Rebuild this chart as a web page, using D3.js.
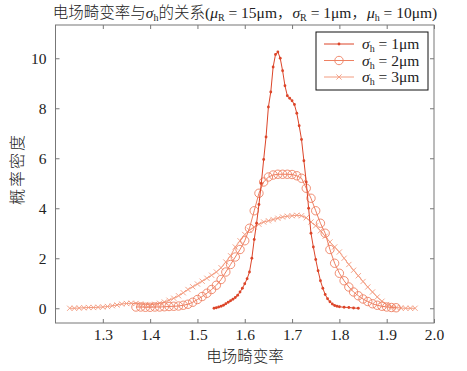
<!DOCTYPE html>
<html lang="zh">
<head>
<meta charset="UTF-8">
<title>电场畸变率与σh的关系</title>
<script src="https://cdn.jsdelivr.net/npm/d3@7/dist/d3.min.js"></script>
<style>
  body { margin: 0; background: #fff; }
  svg { display: block; }
  text { font-family: "Times New Roman", "Liberation Serif", "DejaVu Serif", serif; fill: #222; }
  .cjk { font-family: "Noto Sans CJK SC", sans-serif; font-weight: 300; }
</style>
</head>
<body>
<div id="chart"></div>
<script>
// data
const xTicks = [1.3, 1.4, 1.5, 1.6, 1.7, 1.8, 1.9, 2.0];
const yTicks = [0, 2, 4, 6, 8, 10];

const s1x = [1.535,1.540,1.545,1.550,1.555,1.560,1.565,1.570,1.575,1.580,1.585,1.590,1.595,1.600,1.605,1.610,1.615,1.620,1.625,1.630,1.635,1.640,1.645,1.650,1.655,1.660,1.665,1.670,1.675,1.680,1.685,1.690,1.695,1.700,1.705,1.710,1.715,1.720,1.725,1.730,1.735,1.740,1.745,1.750,1.755,1.760,1.765,1.770,1.775,1.780,1.785,1.790,1.795,1.800,1.810,1.820,1.830,1.840];
const s1y = [0.00,0.02,0.05,0.08,0.12,0.18,0.24,0.30,0.36,0.43,0.52,0.65,0.80,0.98,1.18,1.45,2.00,2.75,3.40,4.15,5.00,5.95,6.85,8.05,8.65,9.65,10.15,10.25,10.0,9.5,8.9,8.5,8.4,8.3,8.15,7.8,7.3,6.75,5.9,5.05,4.0,3.0,2.45,1.95,1.5,1.1,0.8,0.55,0.38,0.26,0.17,0.11,0.08,0.06,0.04,0.03,0.01,0.0];

const s2x = [1.37,1.38,1.39,1.40,1.41,1.42,1.43,1.44,1.45,1.46,1.47,1.48,1.49,1.50,1.51,1.52,1.53,1.54,1.55,1.56,1.57,1.58,1.59,1.60,1.61,1.62,1.63,1.64,1.65,1.66,1.67,1.68,1.69,1.70,1.71,1.72,1.73,1.74,1.75,1.76,1.77,1.78,1.79,1.80,1.81,1.82,1.83,1.84,1.85,1.86,1.87,1.88,1.89,1.90,1.91,1.92];
const s2y = [0.05,0.05,0.04,0.04,0.05,0.05,0.06,0.07,0.08,0.09,0.12,0.16,0.24,0.35,0.47,0.6,0.75,0.92,1.15,1.45,1.75,2.05,2.35,2.7,3.2,3.9,4.6,5.05,5.25,5.33,5.36,5.36,5.36,5.35,5.3,5.2,4.8,4.4,3.9,3.4,3.0,2.35,1.8,1.4,1.1,0.85,0.65,0.5,0.37,0.27,0.18,0.12,0.08,0.05,0.03,0.02];

const s3x = [1.23,1.24,1.25,1.26,1.27,1.28,1.29,1.30,1.31,1.32,1.33,1.34,1.35,1.36,1.37,1.38,1.39,1.40,1.41,1.42,1.43,1.44,1.45,1.46,1.47,1.48,1.49,1.50,1.51,1.52,1.53,1.54,1.55,1.56,1.57,1.58,1.59,1.60,1.61,1.62,1.63,1.64,1.65,1.66,1.67,1.68,1.69,1.70,1.71,1.72,1.73,1.74,1.75,1.76,1.77,1.78,1.79,1.80,1.81,1.82,1.83,1.84,1.85,1.86,1.87,1.88,1.89,1.90,1.91,1.92,1.93,1.94,1.95,1.96];
const s3y = [0.0,0.0,0.01,0.02,0.03,0.03,0.04,0.05,0.07,0.1,0.13,0.17,0.19,0.2,0.19,0.17,0.15,0.14,0.16,0.2,0.25,0.32,0.4,0.5,0.62,0.75,0.86,0.97,1.08,1.2,1.32,1.45,1.62,1.85,2.1,2.45,2.7,2.95,3.12,3.25,3.36,3.45,3.5,3.55,3.6,3.65,3.68,3.7,3.72,3.7,3.62,3.45,3.3,3.1,2.88,2.65,2.45,2.25,2.0,1.75,1.52,1.3,1.07,0.85,0.65,0.45,0.28,0.15,0.07,0.03,0.01,0.0,0.0,0.0];

const series = [
  {name: "1", x: s1x, y: s1y, color: "#dc4529", marker: "dot"},
  {name: "2", x: s2x, y: s2y, color: "#ee8062", marker: "circle"},
  {name: "3", x: s3x, y: s3y, color: "#f39c80", marker: "cross"}
];

const W = 467, H = 371;
const mL = 55.5, mR = 434, mT = 25, mB = 323;
const serif = "'Times New Roman', 'Liberation Serif', 'DejaVu Serif', serif";

const svg = d3.select("#chart").append("svg").attr("width", W).attr("height", H);

const x = d3.scaleLinear().domain([1.2, 2.0]).range([mL, mR]);
const y = d3.scaleLinear().domain([-0.59, 11.33]).range([mB, mT]);

// frame
svg.append("rect")
  .attr("x", mL).attr("y", mT)
  .attr("width", mR - mL).attr("height", mB - mT)
  .attr("fill", "none").attr("stroke", "#777").attr("stroke-width", 1);

// axes, ticks inward
const axisStyle = g => {
  g.attr("font-family", serif);
  g.select(".domain").remove();
  g.selectAll(".tick line").attr("stroke", "#777");
  g.selectAll(".tick text").attr("fill", "#222").style("font-size", "15.5px")
    .style("font-family", serif);
};
svg.append("g").attr("transform", `translate(0,${mB})`)
  .call(d3.axisBottom(x).tickValues(xTicks).tickFormat(d3.format(".1f")).tickSizeInner(-4).tickPadding(6))
  .call(axisStyle);
svg.append("g").attr("transform", `translate(0,${mT})`)
  .call(d3.axisTop(x).tickValues(xTicks).tickSizeInner(-4).tickFormat(""))
  .call(axisStyle);
svg.append("g").attr("transform", `translate(${mL},0)`)
  .call(d3.axisLeft(y).tickValues(yTicks).tickSizeInner(-4).tickPadding(9))
  .call(axisStyle);
svg.append("g").attr("transform", `translate(${mR},0)`)
  .call(d3.axisRight(y).tickValues(yTicks).tickSizeInner(-4).tickFormat(""))
  .call(axisStyle);

const line = d3.line().x(d => x(d[0])).y(d => y(d[1]));

function drawMarker(g, kind, cx, cy, color) {
  if (kind === "dot") {
    g.append("circle").attr("cx", cx).attr("cy", cy).attr("r", 1.4).attr("fill", color);
  } else if (kind === "circle") {
    g.append("circle").attr("cx", cx).attr("cy", cy).attr("r", 4.2)
      .attr("fill", "none").attr("stroke", color).attr("stroke-width", 0.9);
  } else {
    const s = 2.6;
    g.append("path").attr("d", `M${cx-s},${cy-s}L${cx+s},${cy+s}M${cx-s},${cy+s}L${cx+s},${cy-s}`)
      .attr("stroke", color).attr("stroke-width", 0.9);
  }
}

const plot = svg.append("g");
series.slice().reverse().forEach(s => {
  const pts = s.x.map((v, i) => [v, s.y[i]]);
  const g = plot.append("g");
  g.append("path").datum(pts).attr("d", line)
    .attr("fill", "none").attr("stroke", s.color).attr("stroke-width", 1);
  pts.forEach(p => drawMarker(g, s.marker, x(p[0]), y(p[1]), s.color));
});

// title
const title = svg.append("text").attr("x", 245).attr("y", 18)
  .attr("text-anchor", "middle").style("font-size", "15.5px");
title.append("tspan").attr("class", "cjk").text("电场畸变率与");
title.append("tspan").attr("font-style", "italic").text("σ");
title.append("tspan").attr("dy", 3).style("font-size", "10px").text("h");
title.append("tspan").attr("dy", -3).attr("class", "cjk").text("的关系");
title.append("tspan").text("(");
title.append("tspan").attr("font-style", "italic").text("μ");
title.append("tspan").attr("dy", 3).style("font-size", "10px").text("R");
title.append("tspan").attr("dy", -3).text(" = 15μm");
title.append("tspan").attr("class", "cjk").text("，");
title.append("tspan").attr("font-style", "italic").text("σ");
title.append("tspan").attr("dy", 3).style("font-size", "10px").text("R");
title.append("tspan").attr("dy", -3).text(" = 1μm");
title.append("tspan").attr("class", "cjk").text("，");
title.append("tspan").attr("font-style", "italic").text("μ");
title.append("tspan").attr("dy", 3).style("font-size", "10px").text("h");
title.append("tspan").attr("dy", -3).text(" = 10μm)");

// axis labels
svg.append("text").attr("class", "cjk").attr("x", 245).attr("y", 362)
  .attr("text-anchor", "middle").style("font-size", "15.5px").text("电场畸变率");
svg.append("text").attr("class", "cjk")
  .attr("transform", "translate(23,169) rotate(-90)")
  .attr("text-anchor", "middle").style("font-size", "16px").style("letter-spacing", "2px").text("概率密度");

// legend
const lg = svg.append("g").attr("transform", "translate(316,32)");
lg.append("rect").attr("width", 112).attr("height", 58)
  .attr("fill", "#fff").attr("stroke", "#111").attr("stroke-width", 1);
series.forEach((s, i) => {
  const ry = 12 + i * 16.5;
  lg.append("line").attr("x1", 8).attr("x2", 38).attr("y1", ry).attr("y2", ry)
    .attr("stroke", s.color).attr("stroke-width", 1);
  drawMarker(lg, s.marker, 23, ry, s.color);
  const t = lg.append("text").attr("x", 46).attr("y", ry + 5).style("font-size", "15.5px");
  t.append("tspan").attr("font-style", "italic").text("σ");
  t.append("tspan").attr("dy", 3).style("font-size", "10px").text("h");
  t.append("tspan").attr("dy", -3).text(" = " + s.name + "μm");
});
</script>
</body>
</html>
